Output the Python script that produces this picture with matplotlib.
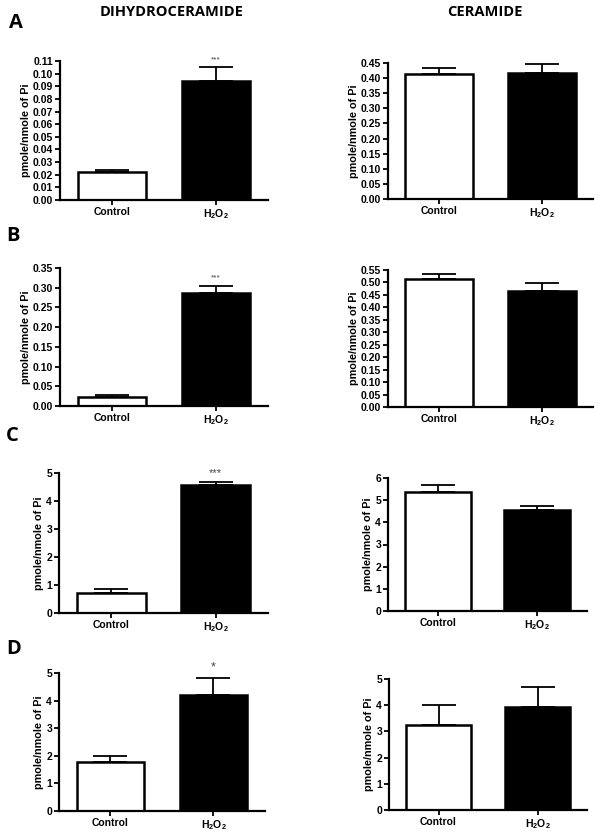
import matplotlib
matplotlib.use("Agg")
import matplotlib.pyplot as plt
import numpy as np

plt.rcParams['font.family'] = ['Liberation Sans', 'DejaVu Sans']
plt.rcParams['font.weight'] = 'bold'
plt.rcParams['mathtext.fontset'] = 'custom'
plt.rcParams['mathtext.rm'] = 'Liberation Sans:bold'
plt.rcParams['mathtext.it'] = 'Liberation Sans:bold'
plt.rcParams['mathtext.bf'] = 'Liberation Sans:bold'

categories = ['Control', r'H$_2$O$_2$']

A_dhc_mean = [0.022, 0.094]
A_dhc_err = [0.002, 0.011]
A_cer_mean = [0.413, 0.418]
A_cer_err = [0.022, 0.029]
B_dhc_mean = [0.024, 0.287]
B_dhc_err = [0.003, 0.018]
B_cer_mean = [0.513, 0.467]
B_cer_err = [0.022, 0.030]
C_dhc_mean = [0.72, 4.58]
C_dhc_err = [0.15, 0.10]
C_cer_mean = [5.39, 4.56]
C_cer_err = [0.30, 0.18]
D_dhc_mean = [1.78, 4.21]
D_dhc_err = [0.23, 0.62]
D_cer_mean = [3.23, 3.94]
D_cer_err = [0.79, 0.75]
sig_dhc = ['***', '***', '***', '*']

W, H = 601, 833
fig = plt.figure(figsize=(W/100, H/100), dpi=100)

def px_axes(x0, x1, ytop, ybot):
    return fig.add_axes([x0/W, 1-ybot/H, (x1-x0)/W, (ybot-ytop)/H])

panels = [
    ((60, 268, 61, 200), A_dhc_mean, A_dhc_err, 0.11, 0.01, '{:.2f}', sig_dhc[0], 6),
    ((388, 593, 63, 199), A_cer_mean, A_cer_err, 0.45, 0.05, '{:.2f}', None, 6),
    ((60, 268, 268, 406), B_dhc_mean, B_dhc_err, 0.35, 0.05, '{:.2f}', sig_dhc[1], 6),
    ((388, 593, 270, 407), B_cer_mean, B_cer_err, 0.55, 0.05, '{:.2f}', None, 6),
    ((59, 268, 473, 613), C_dhc_mean, C_dhc_err, 5, 1, '{:.0f}', sig_dhc[2], 8),
    ((388, 587, 478, 611), C_cer_mean, C_cer_err, 6, 1, '{:.0f}', None, 8),
    ((59, 265, 673, 811), D_dhc_mean, D_dhc_err, 5, 1, '{:.0f}', sig_dhc[3], 9),
    ((389, 587, 679, 810), D_cer_mean, D_cer_err, 5, 1, '{:.0f}', None, 9),
]

x = np.arange(len(categories))
for box, means, errs, ymax, step, fmt, sig, sigsize in panels:
    ax = px_axes(*box)
    ax.bar(x, means, width=0.66, color=['white', 'black'], edgecolor='black',
           linewidth=1.8, zorder=2)
    ax.errorbar(x, means, yerr=[[0, 0], errs], fmt='none', ecolor='black',
                elinewidth=1.3, capsize=12.5, capthick=1.3, zorder=1)
    ax.set_xlim(-0.5, 1.5)
    ax.set_ylim(0, ymax)
    ticks = np.arange(0, ymax + step/2, step)
    ax.set_yticks(ticks)
    ax.set_yticklabels([fmt.format(t) for t in ticks])
    ax.set_xticks(x)
    ax.set_xticklabels(categories)
    ax.spines['top'].set_visible(False)
    ax.spines['right'].set_visible(False)
    ax.spines['left'].set_linewidth(1.6)
    ax.spines['bottom'].set_linewidth(1.6)
    ax.tick_params(axis='both', width=1.3, length=3.5, labelsize=7.5, pad=1.5)
    ax.set_ylabel('pmole/nmole of Pi', fontsize=7.8, fontweight='bold', labelpad=1.5)
    if sig:
        ax.annotate(sig, (1, means[1] + errs[1]), xytext=(0, 3),
                    textcoords='offset points', ha='center', va='bottom',
                    fontsize=sigsize, color='#444444', fontweight='normal')

title_font = ['Open Sans', 'DejaVu Sans']
fig.text(172/W, 1-12/H, 'DIHYDROCERAMIDE', ha='center', va='center',
         fontsize=10.5, fontweight='bold', family=title_font)
fig.text(485/W, 1-12/H, 'CERAMIDE', ha='center', va='center',
         fontsize=10.5, fontweight='bold', family=title_font)
for lab, xx, yy in [('A', 16, 23), ('B', 13, 236), ('C', 12, 436), ('D', 14, 649)]:
    fig.text(xx/W, 1-yy/H, lab, ha='center', va='center', fontsize=14.5,
             fontweight='bold', family=title_font)

fig.savefig('out.png', dpi=100)
